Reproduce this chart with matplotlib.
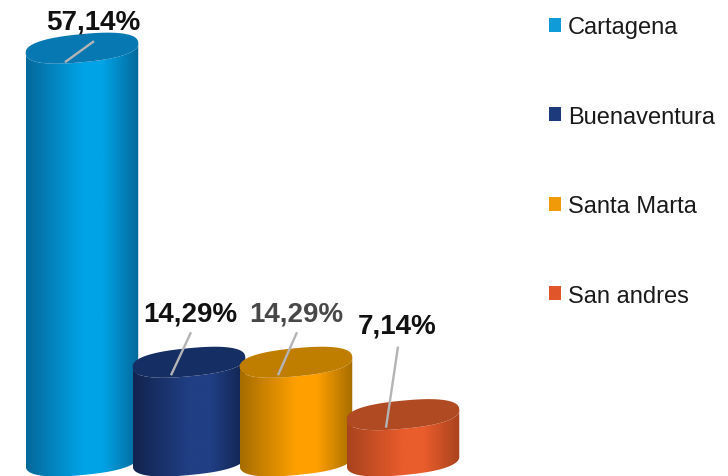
import numpy as np
import matplotlib
matplotlib.use("Agg")
from matplotlib import pyplot as plt
from matplotlib.colors import LinearSegmentedColormap
from matplotlib.patches import Patch, Polygon

# Data
ciudades = ["Cartagena", "Buenaventura", "Santa Marta", "San andres"]
porcentajes = [57.14, 14.29, 14.29, 7.14]
etiquetas = ["57,14%", "14,29%", "14,29%", "7,14%"]

# Colours: edge, centre, top face, legend, label
col_borde = ["#05689a", "#12244f", "#a56d00", "#a8431d"]
col_centro = ["#00a3e6", "#203f85", "#ffa000", "#ea5c2c"]
col_tapa = ["#0878b2", "#152e63", "#bf7e00", "#b04a22"]
col_leyenda = ["#0f9ad8", "#1c3a7c", "#f09a0a", "#e0552a"]
col_texto = ["#111111", "#111111", "#484848", "#111111"]

# Layout in pixels of the 728x477 picture
W, H = 728, 477
PX_X = 107  # pixels per category
PX_Y = 7.33  # pixels per percent
X0, Y0 = 82, 468  # where category 0 / value 0 sit
A, B, TILT = 56.5, 14.0, np.radians(5.5)
P = 0.82  # below 1 gives the fuller ellipse of the reference
BASE_DY = 6  # bottom ellipse sits a little above value 0

# leader line ends and label centre, pixel offsets from centre of top face
lineas = [(-17, -14, 12, 7), (-18, -13, 2, 30), (-18, -13, 1, 30), (-17, -13, -5, 68)]
textos = [(11, 27), (1, 49), (0, 49), (-6, 89)]

fig = plt.figure(figsize=(W / 100, H / 100), dpi=100)
ax = fig.add_axes([0, 0, 1, 1])
xlim = (-X0 / PX_X, (W - X0) / PX_X)
ylim = ((Y0 - H) / PX_Y, Y0 / PX_Y)


def elipse(i, v, t):
    c = np.sign(np.cos(t)) * np.abs(np.cos(t)) ** P
    s = np.sign(np.sin(t)) * np.abs(np.sin(t)) ** P
    dx = A * c * np.cos(TILT) - B * s * np.sin(TILT)
    dy = A * c * np.sin(TILT) + B * s * np.cos(TILT)
    return i + dx / PX_X, v + dy / PX_Y


for i, v in enumerate(porcentajes):
    arco = np.linspace(np.pi, 2 * np.pi, 120)  # lower half, left to right
    base = BASE_DY / PX_Y
    xb, yb = elipse(i, base, arco)
    xt, yt = elipse(i, v, arco[::-1])
    cuerpo = Polygon(np.column_stack([np.r_[xb, xt], np.r_[yb, yt]]),
                     closed=True, transform=ax.transData, fc="none", ec="none", zorder=i + 1)
    ax.add_patch(cuerpo)

    cmap = LinearSegmentedColormap.from_list(
        "c", [(0, col_borde[i]), (0.5, col_centro[i]), (0.68, col_centro[i]), (1, col_borde[i])])
    grad = np.linspace(0, 1, 256).reshape(1, -1)
    im = ax.imshow(grad, cmap=cmap, aspect="auto", zorder=i + 1,
                   extent=(xb.min(), xb.max(), yb.min(), v + 3), interpolation="bilinear")
    im.set_clip_path(cuerpo)

    tt = np.linspace(0, 2 * np.pi, 400)
    xe, ye = elipse(i, v, tt)
    ax.add_patch(Polygon(np.column_stack([xe, ye]), closed=True, fc=col_tapa[i], ec="none", zorder=i + 1.1))

    # leader line
    x0, y0, x1, y1 = lineas[i]
    ax.plot([i + x0 / PX_X, i + x1 / PX_X], [v + y0 / PX_Y, v + y1 / PX_Y],
            color="#b4b4b4", lw=1.7, zorder=10, solid_capstyle="butt")

    dx, dy = textos[i]
    ax.text(i + dx / PX_X, v + dy / PX_Y, etiquetas[i], ha="center", va="center",
            fontsize=20, fontweight="bold", family="Liberation Sans", color=col_texto[i], zorder=11)

ax.set_xlim(xlim)
ax.set_ylim(ylim)
ax.axis("off")

handles = [Patch(fc=c, ec="none") for c in col_leyenda]
ax.legend(handles, ciudades, loc="upper left", bbox_to_anchor=(542 / W, 1 - 10 / H), frameon=False,
          prop={"family": "Liberation Sans", "size": 17}, labelcolor="#1a1a1a",
          labelspacing=2.86, handlelength=0.52, handleheight=0.52, handletextpad=0.27,
          borderpad=0.3, borderaxespad=0)

fig.savefig("out.png", dpi=100)
